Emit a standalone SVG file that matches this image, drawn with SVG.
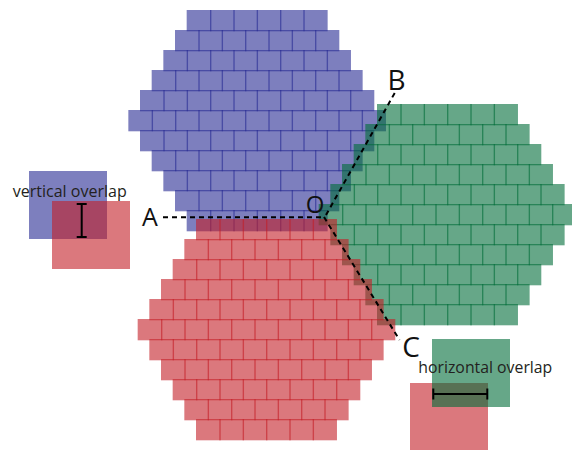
<svg xmlns="http://www.w3.org/2000/svg" xmlns:xlink="http://www.w3.org/1999/xlink" width="572" height="450" viewBox="0 0 572 450">
<style>
.blue{fill:#262a93;fill-opacity:.6}
.green{fill:#006c39;fill-opacity:.6}
.red{fill:#c31e26;fill-opacity:.6}
.lbl{font-family:"Open Sans","Liberation Sans",sans-serif;fill:#111;}
.leg{font-family:"Open Sans","Liberation Sans",sans-serif;fill:#231f20;font-size:15.5px}
.dash{stroke:#000;stroke-width:2;stroke-dasharray:5 4;fill:none}
.beam{stroke:#000;stroke-width:2;fill:none}
</style>
<defs>
<g id="k0"><rect x="0" y="0" width="24.7" height="21.3"/><rect x="23.33" y="0" width="24.7" height="21.3"/><rect x="46.67" y="0" width="24.7" height="21.3"/><rect x="70" y="0" width="24.7" height="21.3"/><rect x="93.33" y="0" width="24.7" height="21.3"/><rect x="116.67" y="0" width="24.3" height="21.3"/></g>
<g id="k1"><rect x="-11.67" y="0" width="24.7" height="21.3"/><rect x="11.67" y="0" width="24.7" height="21.3"/><rect x="35" y="0" width="24.7" height="21.3"/><rect x="58.33" y="0" width="24.7" height="21.3"/><rect x="81.67" y="0" width="24.7" height="21.3"/><rect x="105" y="0" width="24.7" height="21.3"/><rect x="128.33" y="0" width="24.3" height="21.3"/></g>
<g id="k2"><rect x="-23.33" y="0" width="24.7" height="21.3"/><rect x="0" y="0" width="24.7" height="21.3"/><rect x="23.33" y="0" width="24.7" height="21.3"/><rect x="46.67" y="0" width="24.7" height="21.3"/><rect x="70" y="0" width="24.7" height="21.3"/><rect x="93.33" y="0" width="24.7" height="21.3"/><rect x="116.67" y="0" width="24.7" height="21.3"/><rect x="140" y="0" width="24.3" height="21.3"/></g>
<g id="k3"><rect x="-35" y="0" width="24.7" height="21.3"/><rect x="-11.67" y="0" width="24.7" height="21.3"/><rect x="11.67" y="0" width="24.7" height="21.3"/><rect x="35" y="0" width="24.7" height="21.3"/><rect x="58.33" y="0" width="24.7" height="21.3"/><rect x="81.67" y="0" width="24.7" height="21.3"/><rect x="105" y="0" width="24.7" height="21.3"/><rect x="128.33" y="0" width="24.7" height="21.3"/><rect x="151.67" y="0" width="24.3" height="21.3"/></g>
<g id="k4"><rect x="-46.67" y="0" width="24.7" height="21.3"/><rect x="-23.33" y="0" width="24.7" height="21.3"/><rect x="0" y="0" width="24.7" height="21.3"/><rect x="23.33" y="0" width="24.7" height="21.3"/><rect x="46.67" y="0" width="24.7" height="21.3"/><rect x="70" y="0" width="24.7" height="21.3"/><rect x="93.33" y="0" width="24.7" height="21.3"/><rect x="116.67" y="0" width="24.7" height="21.3"/><rect x="140" y="0" width="24.7" height="21.3"/><rect x="163.33" y="0" width="24.3" height="21.3"/></g>
<g id="k5"><rect x="-58.33" y="0" width="24.7" height="21.3"/><rect x="-35" y="0" width="24.7" height="21.3"/><rect x="-11.67" y="0" width="24.7" height="21.3"/><rect x="11.67" y="0" width="24.7" height="21.3"/><rect x="35" y="0" width="24.7" height="21.3"/><rect x="58.33" y="0" width="24.7" height="21.3"/><rect x="81.67" y="0" width="24.7" height="21.3"/><rect x="105" y="0" width="24.7" height="21.3"/><rect x="128.33" y="0" width="24.7" height="21.3"/><rect x="151.67" y="0" width="24.7" height="21.3"/><rect x="175" y="0" width="24.3" height="21.3"/></g>
<g id="hex">
<use href="#k0" y="0"/><use href="#k1" y="20"/><use href="#k2" y="40"/><use href="#k3" y="60"/><use href="#k4" y="80"/><use href="#k5" y="100"/><use href="#k4" y="120"/><use href="#k3" y="140"/><use href="#k2" y="160"/><use href="#k1" y="180"/><use href="#k0" y="200"/>
</g>
</defs>

<g id="blue-hexagon" class="blue"><use href="#hex" x="186.67" y="10"/></g>
<g id="green-hexagon" class="green"><use href="#hex" x="377" y="104"/></g>
<g id="red-hexagon" class="red"><use href="#hex" x="196" y="219"/></g>

<g id="connectors">
<line class="dash" x1="163" y1="217.3" x2="323" y2="217.3"/>
<line class="dash" x1="326" y1="215" x2="395" y2="92.5"/>
<line class="dash" x1="324" y1="217" x2="399.5" y2="340"/>
</g>

<g id="label-A"><text class="lbl" x="142" y="226" font-size="25">A</text></g>
<g id="label-O"><text class="lbl" x="315" y="213" font-size="24" text-anchor="middle">O</text></g>
<g id="label-B"><text class="lbl" x="396.5" y="89.5" font-size="28" text-anchor="middle">B</text></g>
<g id="label-C"><text class="lbl" x="411" y="356.5" font-size="28" text-anchor="middle">C</text></g>

<g id="legend-vertical">
<rect class="blue" x="29" y="171" width="78" height="68"/>
<rect class="red" x="52" y="201" width="78" height="68"/>
<text class="leg" x="12.7" y="196.7" textLength="114" lengthAdjust="spacingAndGlyphs">vertical overlap</text>
<path class="beam" d="M81.7 204V237M76.7 204H86.7M76.7 237H86.7"/>
</g>

<g id="legend-horizontal">
<rect class="red" x="410" y="383" width="78" height="68"/>
<rect class="green" x="432" y="339" width="78" height="68"/>
<text class="leg" x="418.3" y="373.3" textLength="134" lengthAdjust="spacingAndGlyphs">horizontal overlap</text>
<path class="beam" d="M433.3 394H487.3M433.3 388.5V399.5M487.3 388.5V399.5"/>
</g>
</svg>
